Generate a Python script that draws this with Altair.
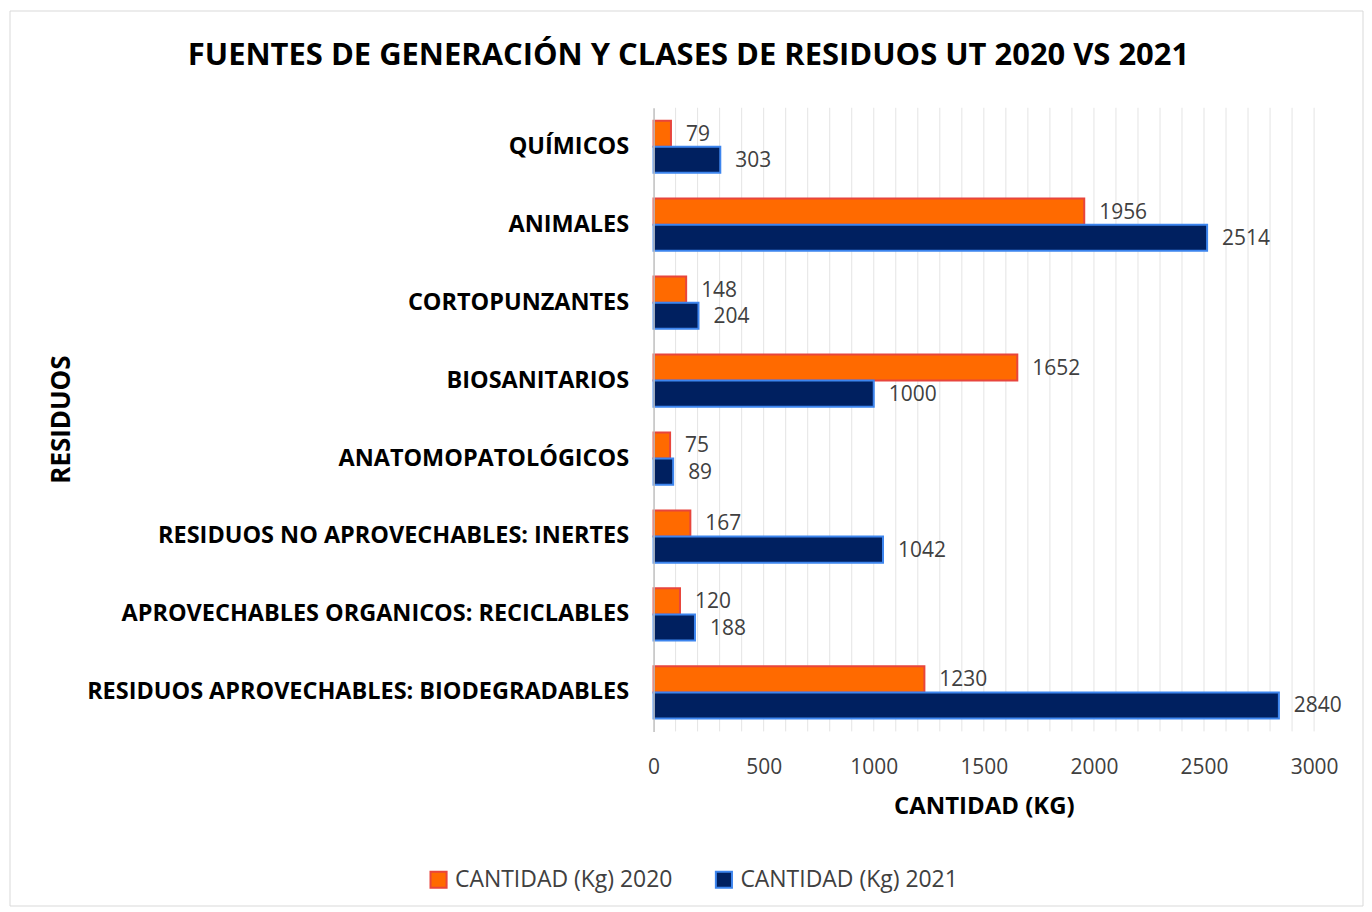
import altair as alt
import pandas as pd

categorias = [
    "QUÍMICOS",
    "ANIMALES",
    "CORTOPUNZANTES",
    "BIOSANITARIOS",
    "ANATOMOPATOLÓGICOS",
    "RESIDUOS NO  APROVECHABLES: INERTES",
    "APROVECHABLES ORGANICOS: RECICLABLES",
    "RESIDUOS APROVECHABLES: BIODEGRADABLES",
]
valores_2020 = [79, 1956, 148, 1652, 75, 167, 120, 1230]
valores_2021 = [303, 2514, 204, 1000, 89, 1042, 188, 2840]
series = ["CANTIDAD (Kg) 2020", "CANTIDAD (Kg) 2021"]
tick_values = [0, 500, 1000, 1500, 2000, 2500, 3000]
grid_values = list(range(100, 3001, 100))

rows = []
for c, a, b in zip(categorias, valores_2020, valores_2021):
    rows.append({"cat": c, "serie": series[0], "valor": a})
    rows.append({"cat": c, "serie": series[1], "valor": b})
df = pd.DataFrame(rows)
grid_df = pd.DataFrame({"g": grid_values})

FONT = "Open Sans"

y_enc = alt.Y(
    "cat:N",
    sort=categorias,
    scale=alt.Scale(paddingInner=0.33, paddingOuter=0.165),
    axis=alt.Axis(
        title="RESIDUOS",
        titleFont=FONT,
        titleFontSize=26,
        titleFontWeight="bold",
        titleColor="#000000",
        titleX=-593,
        titleY=312,
        titleAngle=-90,
        titleAlign="center",
        titleBaseline="middle",
        labelFont=FONT,
        labelFontSize=23.5,
        labelFontWeight="bold",
        labelColor="#000000",
        labelPadding=25,
        labelLimit=700,
        ticks=False,
        grid=False,
        domain=True,
        domainColor="#BFBFBF",
        domainWidth=1.5,
        zindex=2,
    ),
)
x_scale = alt.Scale(domain=[0, 3000], nice=False)
x_axis = alt.Axis(
    title="CANTIDAD (KG)",
    titleFont=FONT,
    titleFontSize=24,
    titleFontWeight="bold",
    titleColor="#000000",
    titleY=75,
    titleBaseline="middle",
    values=tick_values,
    format="d",
    labelOverlap=False,
    labelFlush=False,
    labelFont=FONT,
    labelFontSize=21,
    labelColor="#404040",
    labelPadding=36,
    labelBaseline="middle",
    ticks=False,
    domain=False,
    grid=False,
)

grid = alt.Chart(grid_df).mark_rule(color="#E4E4E4", strokeWidth=1).encode(
    x=alt.X("g:Q", scale=x_scale, axis=x_axis)
)

bars = alt.Chart(df).mark_bar(strokeWidth=2).encode(
    x=alt.X("valor:Q", scale=x_scale, axis=x_axis),
    y=y_enc,
    yOffset=alt.YOffset("serie:N", sort=series),
    color=alt.Color(
        "serie:N",
        sort=series,
        scale=alt.Scale(domain=series, range=["#FF6A00", "#002060"]),
        title=None,
    ),
    stroke=alt.Stroke(
        "serie:N",
        sort=series,
        scale=alt.Scale(domain=series, range=["#E8453C", "#3D85EE"]),
        title=None,
    ),
)

labels = alt.Chart(df).mark_text(
    align="left", baseline="middle", dx=15, dy=1, font=FONT, fontSize=21, color="#404040"
).encode(
    x="valor:Q",
    y=alt.Y("cat:N", sort=categorias),
    yOffset=alt.YOffset("serie:N", sort=series),
    text="valor:Q",
)

border = alt.Chart(pd.DataFrame({"b": [0]})).mark_rect(
    fillOpacity=0, stroke="#D9D9D9", strokeWidth=1
).encode(
    x=alt.value(-645), x2=alt.value(711), y=alt.value(-97), y2=alt.value(800)
)

chart = alt.layer(border, grid, bars, labels).properties(
    width=662,
    height=625,
    title=alt.TitleParams(
        "FUENTES DE GENERACIÓN Y CLASES DE RESIDUOS UT 2020 VS 2021",
        font=FONT,
        fontSize=31,
        fontWeight="bold",
        color="#000000",
        anchor="middle",
        offset=40,
        dy=102,
        dx=-296,
    ),
    autosize=alt.AutoSizeParams(type="none"),
    padding={"left": 647, "top": 99, "right": 50, "bottom": 176},
).configure_view(stroke=None).configure_legend(
    orient="none",
    legendX=-227,
    legendY=762,
    direction="horizontal",
    symbolType="square",
    symbolSize=260,
    symbolStrokeWidth=2,
    labelFont=FONT,
    labelFontSize=23,
    labelColor="#404040",
    labelOffset=5,
    columnPadding=38,
    labelLimit=400,
)

chart.save("out.html", embed_options={"renderer": "svg", "actions": False})
